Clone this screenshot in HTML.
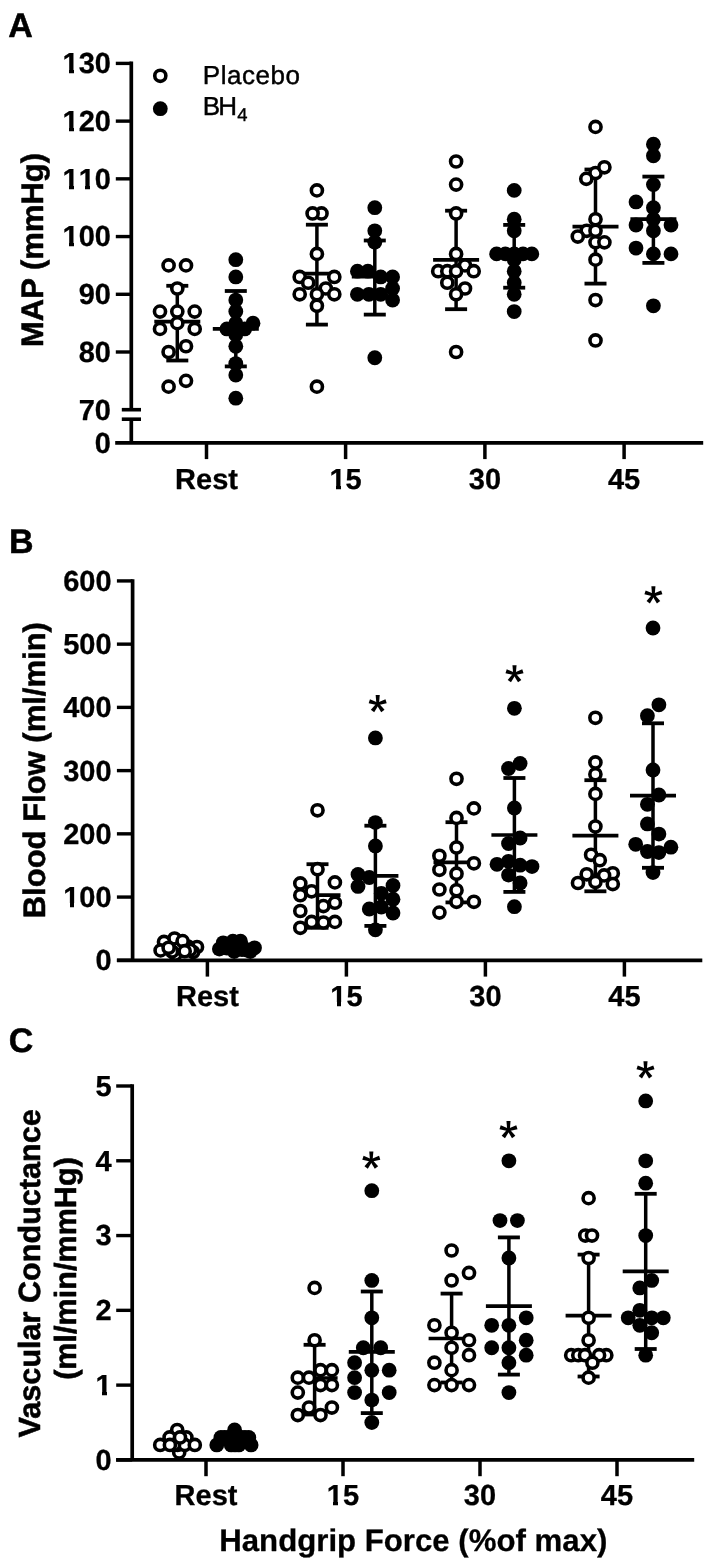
<!DOCTYPE html>
<html><head><meta charset="utf-8"><title>Figure</title>
<style>
html,body{margin:0;padding:0;background:#fff;}
body{width:709px;height:1564px;overflow:hidden;font-family:"Liberation Sans",sans-serif;}
svg{display:block;will-change:transform;transform:translateZ(0);}
</style></head><body>
<svg width="709" height="1564" viewBox="0 0 709 1564" shape-rendering="geometricPrecision" text-rendering="geometricPrecision">
<text x="8.30" y="37.00" font-family="Liberation Sans, sans-serif" font-size="34" font-weight="bold" text-anchor="start" letter-spacing="0" fill="#000" stroke="#000" stroke-width="0.5" stroke-linejoin="round" >A</text>
<line x1="131.30" y1="61.55" x2="131.30" y2="409.70" stroke="#000" stroke-width="3.7"/>
<line x1="131.30" y1="419.20" x2="131.30" y2="442.80" stroke="#000" stroke-width="3.7"/>
<line x1="121.80" y1="409.70" x2="141.00" y2="409.70" stroke="#000" stroke-width="3.6"/>
<line x1="121.80" y1="419.20" x2="141.00" y2="419.20" stroke="#000" stroke-width="3.6"/>
<line x1="115.80" y1="63.40" x2="131.30" y2="63.40" stroke="#000" stroke-width="3.4000000000000004"/>
<text x="111.00" y="73.20" font-family="Liberation Sans, sans-serif" font-size="29" font-weight="bold" text-anchor="end" letter-spacing="0" fill="#000" stroke="#000" stroke-width="0.3" stroke-linejoin="round" style="font-kerning:none" >130</text>
<rect x="63" y="69" width="6" height="6" fill="#fff" shape-rendering="crispEdges"/>
<rect x="74" y="69" width="5" height="6" fill="#fff" shape-rendering="crispEdges"/>
<line x1="115.80" y1="121.12" x2="131.30" y2="121.12" stroke="#000" stroke-width="3.4000000000000004"/>
<text x="111.00" y="130.92" font-family="Liberation Sans, sans-serif" font-size="29" font-weight="bold" text-anchor="end" letter-spacing="0" fill="#000" stroke="#000" stroke-width="0.3" stroke-linejoin="round" style="font-kerning:none" >120</text>
<rect x="63" y="127" width="6" height="5" fill="#fff" shape-rendering="crispEdges"/>
<rect x="74" y="127" width="5" height="5" fill="#fff" shape-rendering="crispEdges"/>
<line x1="115.80" y1="178.84" x2="131.30" y2="178.84" stroke="#000" stroke-width="3.4000000000000004"/>
<text x="111.00" y="188.64" font-family="Liberation Sans, sans-serif" font-size="29" font-weight="bold" text-anchor="end" letter-spacing="0" fill="#000" stroke="#000" stroke-width="0.3" stroke-linejoin="round" style="font-kerning:none" >110</text>
<rect x="63" y="185" width="6" height="5" fill="#fff" shape-rendering="crispEdges"/>
<rect x="74" y="185" width="5" height="5" fill="#fff" shape-rendering="crispEdges"/>
<rect x="80" y="185" width="5" height="5" fill="#fff" shape-rendering="crispEdges"/>
<rect x="90" y="185" width="5" height="5" fill="#fff" shape-rendering="crispEdges"/>
<line x1="115.80" y1="236.56" x2="131.30" y2="236.56" stroke="#000" stroke-width="3.4000000000000004"/>
<text x="111.00" y="246.36" font-family="Liberation Sans, sans-serif" font-size="29" font-weight="bold" text-anchor="end" letter-spacing="0" fill="#000" stroke="#000" stroke-width="0.3" stroke-linejoin="round" style="font-kerning:none" >100</text>
<rect x="63" y="242" width="6" height="6" fill="#fff" shape-rendering="crispEdges"/>
<rect x="74" y="242" width="5" height="6" fill="#fff" shape-rendering="crispEdges"/>
<line x1="115.80" y1="294.28" x2="131.30" y2="294.28" stroke="#000" stroke-width="3.4000000000000004"/>
<text x="111.00" y="304.08" font-family="Liberation Sans, sans-serif" font-size="29" font-weight="bold" text-anchor="end" letter-spacing="0" fill="#000" stroke="#000" stroke-width="0.3" stroke-linejoin="round" style="font-kerning:none" >90</text>
<line x1="115.80" y1="352.00" x2="131.30" y2="352.00" stroke="#000" stroke-width="3.4000000000000004"/>
<text x="111.00" y="361.80" font-family="Liberation Sans, sans-serif" font-size="29" font-weight="bold" text-anchor="end" letter-spacing="0" fill="#000" stroke="#000" stroke-width="0.3" stroke-linejoin="round" style="font-kerning:none" >80</text>
<text x="111.00" y="419.50" font-family="Liberation Sans, sans-serif" font-size="29" font-weight="bold" text-anchor="end" letter-spacing="0" fill="#000" stroke="#000" stroke-width="0.3" stroke-linejoin="round" >70</text>
<text x="111.00" y="452.90" font-family="Liberation Sans, sans-serif" font-size="29" font-weight="bold" text-anchor="end" letter-spacing="0" fill="#000" stroke="#000" stroke-width="0.3" stroke-linejoin="round" >0</text>
<line x1="115.20" y1="442.80" x2="703.20" y2="442.80" stroke="#000" stroke-width="3.7"/>
<line x1="206.50" y1="442.80" x2="206.50" y2="459.10" stroke="#000" stroke-width="3.5"/>
<text x="206.50" y="489.00" font-family="Liberation Sans, sans-serif" font-size="29" font-weight="bold" text-anchor="middle" letter-spacing="0" fill="#000" stroke="#000" stroke-width="0.3" stroke-linejoin="round" style="font-kerning:none" >Rest</text>
<line x1="345.60" y1="442.80" x2="345.60" y2="459.10" stroke="#000" stroke-width="3.5"/>
<text x="345.60" y="489.00" font-family="Liberation Sans, sans-serif" font-size="29" font-weight="bold" text-anchor="middle" letter-spacing="0" fill="#000" stroke="#000" stroke-width="0.3" stroke-linejoin="round" style="font-kerning:none" >15</text>
<rect x="330" y="485" width="6" height="5" fill="#fff" shape-rendering="crispEdges"/>
<rect x="341" y="485" width="5" height="5" fill="#fff" shape-rendering="crispEdges"/>
<line x1="484.90" y1="442.80" x2="484.90" y2="459.10" stroke="#000" stroke-width="3.5"/>
<text x="484.90" y="489.00" font-family="Liberation Sans, sans-serif" font-size="29" font-weight="bold" text-anchor="middle" letter-spacing="0" fill="#000" stroke="#000" stroke-width="0.3" stroke-linejoin="round" style="font-kerning:none" >30</text>
<line x1="624.10" y1="442.80" x2="624.10" y2="459.10" stroke="#000" stroke-width="3.5"/>
<text x="624.10" y="489.00" font-family="Liberation Sans, sans-serif" font-size="29" font-weight="bold" text-anchor="middle" letter-spacing="0" fill="#000" stroke="#000" stroke-width="0.3" stroke-linejoin="round" style="font-kerning:none" >45</text>
<text transform="translate(43.00,250.00) rotate(-90)" font-family="Liberation Sans, sans-serif" font-size="31" font-weight="bold" text-anchor="middle" letter-spacing="0" fill="#000" stroke="#000" stroke-width="0.55" stroke-linejoin="round">MAP (mmHg)</text>
<circle cx="160.3" cy="75.80" r="5.55" fill="#fff" stroke="#000" stroke-width="3.6"/>
<circle cx="160.3" cy="108.70" r="7.40" fill="#000"/>
<text x="202.80" y="84.30" font-family="Liberation Sans, sans-serif" font-size="26" font-weight="normal" text-anchor="start" letter-spacing="0.55" fill="#000"  stroke="#000" stroke-width="0.45">Placebo</text>
<text x="202.85" y="114.60" font-family="Liberation Sans, sans-serif" font-size="26" font-weight="normal" text-anchor="start" letter-spacing="-2.0" fill="#000"  stroke="#000" stroke-width="0.45">BH</text>
<text x="237.20" y="120.80" font-family="Liberation Sans, sans-serif" font-size="18.5" font-weight="normal" text-anchor="start" letter-spacing="0" fill="#000"  stroke="#000" stroke-width="0.35">4</text>
<line x1="177.30" y1="285.80" x2="177.30" y2="360.50" stroke="#000" stroke-width="3.5"/>
<line x1="166.30" y1="285.80" x2="188.30" y2="285.80" stroke="#000" stroke-width="3.8"/>
<line x1="166.30" y1="360.50" x2="188.30" y2="360.50" stroke="#000" stroke-width="3.8"/>
<line x1="154.30" y1="321.60" x2="200.30" y2="321.60" stroke="#000" stroke-width="3.7"/>
<circle cx="168.6" cy="265.42" r="5.55" fill="#fff" stroke="#000" stroke-width="3.6"/>
<circle cx="186.0" cy="265.42" r="5.55" fill="#fff" stroke="#000" stroke-width="3.6"/>
<circle cx="177.3" cy="288.51" r="5.55" fill="#fff" stroke="#000" stroke-width="3.6"/>
<circle cx="160.0" cy="311.60" r="5.55" fill="#fff" stroke="#000" stroke-width="3.6"/>
<circle cx="177.3" cy="311.60" r="5.55" fill="#fff" stroke="#000" stroke-width="3.6"/>
<circle cx="194.7" cy="311.60" r="5.55" fill="#fff" stroke="#000" stroke-width="3.6"/>
<circle cx="177.3" cy="323.14" r="5.55" fill="#fff" stroke="#000" stroke-width="3.6"/>
<circle cx="160.0" cy="328.91" r="5.55" fill="#fff" stroke="#000" stroke-width="3.6"/>
<circle cx="194.7" cy="328.91" r="5.55" fill="#fff" stroke="#000" stroke-width="3.6"/>
<circle cx="186.0" cy="346.23" r="5.55" fill="#fff" stroke="#000" stroke-width="3.6"/>
<circle cx="168.6" cy="352.00" r="5.55" fill="#fff" stroke="#000" stroke-width="3.6"/>
<circle cx="186.0" cy="380.86" r="5.55" fill="#fff" stroke="#000" stroke-width="3.6"/>
<circle cx="168.6" cy="386.63" r="5.55" fill="#fff" stroke="#000" stroke-width="3.6"/>
<line x1="235.80" y1="291.00" x2="235.80" y2="366.40" stroke="#000" stroke-width="3.5"/>
<line x1="224.80" y1="291.00" x2="246.80" y2="291.00" stroke="#000" stroke-width="3.8"/>
<line x1="224.80" y1="366.40" x2="246.80" y2="366.40" stroke="#000" stroke-width="3.8"/>
<line x1="212.80" y1="328.90" x2="258.80" y2="328.90" stroke="#000" stroke-width="3.7"/>
<circle cx="235.8" cy="323.14" r="7.40" fill="#000"/>
<circle cx="235.8" cy="334.68" r="7.40" fill="#000"/>
<circle cx="235.8" cy="259.65" r="7.40" fill="#000"/>
<circle cx="235.8" cy="276.96" r="7.40" fill="#000"/>
<circle cx="235.8" cy="300.05" r="7.40" fill="#000"/>
<circle cx="235.8" cy="311.60" r="7.40" fill="#000"/>
<circle cx="226.9" cy="328.91" r="7.40" fill="#000"/>
<circle cx="235.8" cy="328.91" r="7.40" fill="#000"/>
<circle cx="244.7" cy="328.91" r="7.40" fill="#000"/>
<circle cx="253.0" cy="323.14" r="7.40" fill="#000"/>
<circle cx="235.8" cy="346.23" r="7.40" fill="#000"/>
<circle cx="235.8" cy="363.54" r="7.40" fill="#000"/>
<circle cx="235.8" cy="375.09" r="7.40" fill="#000"/>
<circle cx="235.8" cy="398.18" r="7.40" fill="#000"/>
<line x1="316.90" y1="224.70" x2="316.90" y2="324.60" stroke="#000" stroke-width="3.5"/>
<line x1="305.90" y1="224.70" x2="327.90" y2="224.70" stroke="#000" stroke-width="3.8"/>
<line x1="305.90" y1="324.60" x2="327.90" y2="324.60" stroke="#000" stroke-width="3.8"/>
<line x1="293.90" y1="273.70" x2="339.90" y2="273.70" stroke="#000" stroke-width="3.7"/>
<circle cx="316.9" cy="190.38" r="5.55" fill="#fff" stroke="#000" stroke-width="3.6"/>
<circle cx="321.5" cy="213.47" r="5.55" fill="#fff" stroke="#000" stroke-width="3.6"/>
<circle cx="312.6" cy="213.47" r="5.55" fill="#fff" stroke="#000" stroke-width="3.6"/>
<circle cx="316.9" cy="253.88" r="5.55" fill="#fff" stroke="#000" stroke-width="3.6"/>
<circle cx="299.7" cy="276.96" r="5.55" fill="#fff" stroke="#000" stroke-width="3.6"/>
<circle cx="334.3" cy="276.96" r="5.55" fill="#fff" stroke="#000" stroke-width="3.6"/>
<circle cx="308.2" cy="282.74" r="5.55" fill="#fff" stroke="#000" stroke-width="3.6"/>
<circle cx="325.8" cy="288.51" r="5.55" fill="#fff" stroke="#000" stroke-width="3.6"/>
<circle cx="299.7" cy="294.28" r="5.55" fill="#fff" stroke="#000" stroke-width="3.6"/>
<circle cx="316.9" cy="294.28" r="5.55" fill="#fff" stroke="#000" stroke-width="3.6"/>
<circle cx="334.3" cy="294.28" r="5.55" fill="#fff" stroke="#000" stroke-width="3.6"/>
<circle cx="316.9" cy="305.82" r="5.55" fill="#fff" stroke="#000" stroke-width="3.6"/>
<circle cx="316.9" cy="386.63" r="5.55" fill="#fff" stroke="#000" stroke-width="3.6"/>
<line x1="374.80" y1="240.50" x2="374.80" y2="314.60" stroke="#000" stroke-width="3.5"/>
<line x1="363.80" y1="240.50" x2="385.80" y2="240.50" stroke="#000" stroke-width="3.8"/>
<line x1="363.80" y1="314.60" x2="385.80" y2="314.60" stroke="#000" stroke-width="3.8"/>
<line x1="351.80" y1="276.60" x2="397.80" y2="276.60" stroke="#000" stroke-width="3.7"/>
<circle cx="374.8" cy="207.70" r="7.40" fill="#000"/>
<circle cx="374.8" cy="230.79" r="7.40" fill="#000"/>
<circle cx="374.8" cy="242.33" r="7.40" fill="#000"/>
<circle cx="357.4" cy="271.19" r="7.40" fill="#000"/>
<circle cx="367.9" cy="271.19" r="7.40" fill="#000"/>
<circle cx="380.7" cy="276.96" r="7.40" fill="#000"/>
<circle cx="392.6" cy="276.96" r="7.40" fill="#000"/>
<circle cx="392.6" cy="288.51" r="7.40" fill="#000"/>
<circle cx="357.4" cy="294.28" r="7.40" fill="#000"/>
<circle cx="368.9" cy="294.28" r="7.40" fill="#000"/>
<circle cx="380.7" cy="294.28" r="7.40" fill="#000"/>
<circle cx="392.6" cy="300.05" r="7.40" fill="#000"/>
<circle cx="374.8" cy="357.77" r="7.40" fill="#000"/>
<line x1="456.10" y1="210.70" x2="456.10" y2="309.20" stroke="#000" stroke-width="3.5"/>
<line x1="445.10" y1="210.70" x2="467.10" y2="210.70" stroke="#000" stroke-width="3.8"/>
<line x1="445.10" y1="309.20" x2="467.10" y2="309.20" stroke="#000" stroke-width="3.8"/>
<line x1="433.10" y1="259.90" x2="479.10" y2="259.90" stroke="#000" stroke-width="3.7"/>
<circle cx="456.1" cy="161.52" r="5.55" fill="#fff" stroke="#000" stroke-width="3.6"/>
<circle cx="456.1" cy="184.61" r="5.55" fill="#fff" stroke="#000" stroke-width="3.6"/>
<circle cx="456.1" cy="213.47" r="5.55" fill="#fff" stroke="#000" stroke-width="3.6"/>
<circle cx="456.1" cy="253.88" r="5.55" fill="#fff" stroke="#000" stroke-width="3.6"/>
<circle cx="465.0" cy="265.42" r="5.55" fill="#fff" stroke="#000" stroke-width="3.6"/>
<circle cx="438.2" cy="271.19" r="5.55" fill="#fff" stroke="#000" stroke-width="3.6"/>
<circle cx="447.3" cy="271.19" r="5.55" fill="#fff" stroke="#000" stroke-width="3.6"/>
<circle cx="456.1" cy="271.19" r="5.55" fill="#fff" stroke="#000" stroke-width="3.6"/>
<circle cx="473.7" cy="271.19" r="5.55" fill="#fff" stroke="#000" stroke-width="3.6"/>
<circle cx="447.3" cy="282.74" r="5.55" fill="#fff" stroke="#000" stroke-width="3.6"/>
<circle cx="465.0" cy="288.51" r="5.55" fill="#fff" stroke="#000" stroke-width="3.6"/>
<circle cx="456.1" cy="294.28" r="5.55" fill="#fff" stroke="#000" stroke-width="3.6"/>
<circle cx="456.1" cy="352.00" r="5.55" fill="#fff" stroke="#000" stroke-width="3.6"/>
<line x1="514.20" y1="224.90" x2="514.20" y2="287.70" stroke="#000" stroke-width="3.5"/>
<line x1="503.20" y1="224.90" x2="525.20" y2="224.90" stroke="#000" stroke-width="3.8"/>
<line x1="503.20" y1="287.70" x2="525.20" y2="287.70" stroke="#000" stroke-width="3.8"/>
<line x1="491.20" y1="254.50" x2="537.20" y2="254.50" stroke="#000" stroke-width="3.7"/>
<circle cx="514.2" cy="190.38" r="7.40" fill="#000"/>
<circle cx="514.2" cy="219.24" r="7.40" fill="#000"/>
<circle cx="514.2" cy="230.79" r="7.40" fill="#000"/>
<circle cx="496.6" cy="253.88" r="7.40" fill="#000"/>
<circle cx="505.4" cy="253.88" r="7.40" fill="#000"/>
<circle cx="514.2" cy="253.88" r="7.40" fill="#000"/>
<circle cx="523.0" cy="253.88" r="7.40" fill="#000"/>
<circle cx="531.8" cy="253.88" r="7.40" fill="#000"/>
<circle cx="514.2" cy="259.65" r="7.40" fill="#000"/>
<circle cx="514.2" cy="271.19" r="7.40" fill="#000"/>
<circle cx="514.2" cy="282.74" r="7.40" fill="#000"/>
<circle cx="514.2" cy="294.28" r="7.40" fill="#000"/>
<circle cx="514.2" cy="311.60" r="7.40" fill="#000"/>
<line x1="595.50" y1="169.50" x2="595.50" y2="283.60" stroke="#000" stroke-width="3.5"/>
<line x1="584.50" y1="169.50" x2="606.50" y2="169.50" stroke="#000" stroke-width="3.8"/>
<line x1="584.50" y1="283.60" x2="606.50" y2="283.60" stroke="#000" stroke-width="3.8"/>
<line x1="572.50" y1="226.60" x2="618.50" y2="226.60" stroke="#000" stroke-width="3.7"/>
<circle cx="595.5" cy="126.89" r="5.55" fill="#fff" stroke="#000" stroke-width="3.6"/>
<circle cx="595.5" cy="173.07" r="5.55" fill="#fff" stroke="#000" stroke-width="3.6"/>
<circle cx="604.4" cy="167.30" r="5.55" fill="#fff" stroke="#000" stroke-width="3.6"/>
<circle cx="586.3" cy="178.84" r="5.55" fill="#fff" stroke="#000" stroke-width="3.6"/>
<circle cx="595.5" cy="219.24" r="5.55" fill="#fff" stroke="#000" stroke-width="3.6"/>
<circle cx="586.7" cy="230.79" r="5.55" fill="#fff" stroke="#000" stroke-width="3.6"/>
<circle cx="595.5" cy="230.79" r="5.55" fill="#fff" stroke="#000" stroke-width="3.6"/>
<circle cx="577.8" cy="236.56" r="5.55" fill="#fff" stroke="#000" stroke-width="3.6"/>
<circle cx="595.5" cy="242.33" r="5.55" fill="#fff" stroke="#000" stroke-width="3.6"/>
<circle cx="604.4" cy="242.33" r="5.55" fill="#fff" stroke="#000" stroke-width="3.6"/>
<circle cx="595.5" cy="259.65" r="5.55" fill="#fff" stroke="#000" stroke-width="3.6"/>
<circle cx="595.5" cy="300.05" r="5.55" fill="#fff" stroke="#000" stroke-width="3.6"/>
<circle cx="595.5" cy="340.46" r="5.55" fill="#fff" stroke="#000" stroke-width="3.6"/>
<line x1="653.40" y1="176.60" x2="653.40" y2="262.90" stroke="#000" stroke-width="3.5"/>
<line x1="642.40" y1="176.60" x2="664.40" y2="176.60" stroke="#000" stroke-width="3.8"/>
<line x1="642.40" y1="262.90" x2="664.40" y2="262.90" stroke="#000" stroke-width="3.8"/>
<line x1="630.40" y1="219.10" x2="676.40" y2="219.10" stroke="#000" stroke-width="3.7"/>
<circle cx="653.4" cy="144.21" r="7.40" fill="#000"/>
<circle cx="653.4" cy="155.75" r="7.40" fill="#000"/>
<circle cx="653.4" cy="184.61" r="7.40" fill="#000"/>
<circle cx="636.0" cy="201.93" r="7.40" fill="#000"/>
<circle cx="653.4" cy="207.70" r="7.40" fill="#000"/>
<circle cx="653.4" cy="219.24" r="7.40" fill="#000"/>
<circle cx="636.0" cy="225.02" r="7.40" fill="#000"/>
<circle cx="671.0" cy="225.02" r="7.40" fill="#000"/>
<circle cx="653.4" cy="230.79" r="7.40" fill="#000"/>
<circle cx="636.0" cy="248.10" r="7.40" fill="#000"/>
<circle cx="653.4" cy="253.88" r="7.40" fill="#000"/>
<circle cx="671.0" cy="253.88" r="7.40" fill="#000"/>
<circle cx="653.4" cy="305.82" r="7.40" fill="#000"/>
<text x="9.00" y="553.00" font-family="Liberation Sans, sans-serif" font-size="34" font-weight="bold" text-anchor="start" letter-spacing="0" fill="#000" stroke="#000" stroke-width="0.5" stroke-linejoin="round" >B</text>
<line x1="132.60" y1="579.22" x2="132.60" y2="960.30" stroke="#000" stroke-width="3.7"/>
<line x1="116.90" y1="580.92" x2="132.60" y2="580.92" stroke="#000" stroke-width="3.4000000000000004"/>
<text x="111.60" y="590.82" font-family="Liberation Sans, sans-serif" font-size="29" font-weight="bold" text-anchor="end" letter-spacing="0" fill="#000" stroke="#000" stroke-width="0.3" stroke-linejoin="round" style="font-kerning:none" >600</text>
<line x1="116.90" y1="644.15" x2="132.60" y2="644.15" stroke="#000" stroke-width="3.4000000000000004"/>
<text x="111.60" y="654.05" font-family="Liberation Sans, sans-serif" font-size="29" font-weight="bold" text-anchor="end" letter-spacing="0" fill="#000" stroke="#000" stroke-width="0.3" stroke-linejoin="round" style="font-kerning:none" >500</text>
<line x1="116.90" y1="707.38" x2="132.60" y2="707.38" stroke="#000" stroke-width="3.4000000000000004"/>
<text x="111.60" y="717.28" font-family="Liberation Sans, sans-serif" font-size="29" font-weight="bold" text-anchor="end" letter-spacing="0" fill="#000" stroke="#000" stroke-width="0.3" stroke-linejoin="round" style="font-kerning:none" >400</text>
<line x1="116.90" y1="770.61" x2="132.60" y2="770.61" stroke="#000" stroke-width="3.4000000000000004"/>
<text x="111.60" y="780.51" font-family="Liberation Sans, sans-serif" font-size="29" font-weight="bold" text-anchor="end" letter-spacing="0" fill="#000" stroke="#000" stroke-width="0.3" stroke-linejoin="round" style="font-kerning:none" >300</text>
<line x1="116.90" y1="833.84" x2="132.60" y2="833.84" stroke="#000" stroke-width="3.4000000000000004"/>
<text x="111.60" y="843.74" font-family="Liberation Sans, sans-serif" font-size="29" font-weight="bold" text-anchor="end" letter-spacing="0" fill="#000" stroke="#000" stroke-width="0.3" stroke-linejoin="round" style="font-kerning:none" >200</text>
<line x1="116.90" y1="897.07" x2="132.60" y2="897.07" stroke="#000" stroke-width="3.4000000000000004"/>
<text x="111.60" y="906.97" font-family="Liberation Sans, sans-serif" font-size="29" font-weight="bold" text-anchor="end" letter-spacing="0" fill="#000" stroke="#000" stroke-width="0.3" stroke-linejoin="round" style="font-kerning:none" >100</text>
<rect x="64" y="903" width="6" height="5" fill="#fff" shape-rendering="crispEdges"/>
<rect x="74" y="903" width="5" height="5" fill="#fff" shape-rendering="crispEdges"/>
<line x1="116.90" y1="960.30" x2="132.60" y2="960.30" stroke="#000" stroke-width="3.4000000000000004"/>
<text x="111.60" y="970.20" font-family="Liberation Sans, sans-serif" font-size="29" font-weight="bold" text-anchor="end" letter-spacing="0" fill="#000" stroke="#000" stroke-width="0.3" stroke-linejoin="round" style="font-kerning:none" >0</text>
<line x1="116.90" y1="960.30" x2="702.30" y2="960.30" stroke="#000" stroke-width="3.7"/>
<line x1="207.40" y1="960.30" x2="207.40" y2="976.60" stroke="#000" stroke-width="3.5"/>
<text x="207.40" y="1005.60" font-family="Liberation Sans, sans-serif" font-size="29" font-weight="bold" text-anchor="middle" letter-spacing="0" fill="#000" stroke="#000" stroke-width="0.3" stroke-linejoin="round" style="font-kerning:none" >Rest</text>
<line x1="346.40" y1="960.30" x2="346.40" y2="976.60" stroke="#000" stroke-width="3.5"/>
<text x="346.40" y="1005.60" font-family="Liberation Sans, sans-serif" font-size="29" font-weight="bold" text-anchor="middle" letter-spacing="0" fill="#000" stroke="#000" stroke-width="0.3" stroke-linejoin="round" style="font-kerning:none" >15</text>
<rect x="331" y="1002" width="6" height="5" fill="#fff" shape-rendering="crispEdges"/>
<rect x="341" y="1002" width="5" height="5" fill="#fff" shape-rendering="crispEdges"/>
<line x1="485.40" y1="960.30" x2="485.40" y2="976.60" stroke="#000" stroke-width="3.5"/>
<text x="485.40" y="1005.60" font-family="Liberation Sans, sans-serif" font-size="29" font-weight="bold" text-anchor="middle" letter-spacing="0" fill="#000" stroke="#000" stroke-width="0.3" stroke-linejoin="round" style="font-kerning:none" >30</text>
<line x1="624.40" y1="960.30" x2="624.40" y2="976.60" stroke="#000" stroke-width="3.5"/>
<text x="624.40" y="1005.60" font-family="Liberation Sans, sans-serif" font-size="29" font-weight="bold" text-anchor="middle" letter-spacing="0" fill="#000" stroke="#000" stroke-width="0.3" stroke-linejoin="round" style="font-kerning:none" >45</text>
<text transform="translate(45.10,770.20) rotate(-90)" font-family="Liberation Sans, sans-serif" font-size="31" font-weight="bold" text-anchor="middle" letter-spacing="0" fill="#000" stroke="#000" stroke-width="0.55" stroke-linejoin="round">Blood Flow (ml/min)</text>
<circle cx="197.0" cy="947.00" r="5.55" fill="#fff" stroke="#000" stroke-width="3.6"/>
<circle cx="193.1" cy="952.10" r="5.55" fill="#fff" stroke="#000" stroke-width="3.6"/>
<circle cx="174.5" cy="938.50" r="5.55" fill="#fff" stroke="#000" stroke-width="3.6"/>
<circle cx="164.0" cy="941.90" r="5.55" fill="#fff" stroke="#000" stroke-width="3.6"/>
<circle cx="160.6" cy="950.40" r="5.55" fill="#fff" stroke="#000" stroke-width="3.6"/>
<circle cx="175.4" cy="954.60" r="5.55" fill="#fff" stroke="#000" stroke-width="3.6"/>
<circle cx="188.0" cy="946.50" r="5.55" fill="#fff" stroke="#000" stroke-width="3.6"/>
<circle cx="178.0" cy="948.50" r="5.55" fill="#fff" stroke="#000" stroke-width="3.6"/>
<circle cx="172.0" cy="951.50" r="5.55" fill="#fff" stroke="#000" stroke-width="3.6"/>
<circle cx="190.0" cy="950.00" r="5.55" fill="#fff" stroke="#000" stroke-width="3.6"/>
<circle cx="168.6" cy="947.80" r="5.55" fill="#fff" stroke="#000" stroke-width="3.6"/>
<circle cx="182.6" cy="941.10" r="5.55" fill="#fff" stroke="#000" stroke-width="3.6"/>
<circle cx="184.7" cy="951.20" r="5.55" fill="#fff" stroke="#000" stroke-width="3.6"/>
<circle cx="219.4" cy="949.10" r="7.40" fill="#000"/>
<circle cx="223.2" cy="942.80" r="7.40" fill="#000"/>
<circle cx="232.9" cy="941.20" r="7.40" fill="#000"/>
<circle cx="240.5" cy="941.20" r="7.40" fill="#000"/>
<circle cx="254.5" cy="947.80" r="7.40" fill="#000"/>
<circle cx="234.2" cy="951.60" r="7.40" fill="#000"/>
<circle cx="250.3" cy="951.60" r="7.40" fill="#000"/>
<circle cx="227.0" cy="948.00" r="7.40" fill="#000"/>
<circle cx="237.0" cy="947.00" r="7.40" fill="#000"/>
<circle cx="244.0" cy="948.50" r="7.40" fill="#000"/>
<circle cx="242.0" cy="949.50" r="7.40" fill="#000"/>
<circle cx="230.0" cy="947.00" r="7.40" fill="#000"/>
<circle cx="247.0" cy="950.00" r="7.40" fill="#000"/>
<line x1="317.50" y1="864.20" x2="317.50" y2="927.80" stroke="#000" stroke-width="3.5"/>
<line x1="306.50" y1="864.20" x2="328.50" y2="864.20" stroke="#000" stroke-width="3.8"/>
<line x1="306.50" y1="927.80" x2="328.50" y2="927.80" stroke="#000" stroke-width="3.8"/>
<line x1="294.50" y1="895.20" x2="340.50" y2="895.20" stroke="#000" stroke-width="3.7"/>
<circle cx="317.5" cy="810.30" r="5.55" fill="#fff" stroke="#000" stroke-width="3.6"/>
<circle cx="317.5" cy="869.20" r="5.55" fill="#fff" stroke="#000" stroke-width="3.6"/>
<circle cx="300.3" cy="883.40" r="5.55" fill="#fff" stroke="#000" stroke-width="3.6"/>
<circle cx="334.9" cy="882.40" r="5.55" fill="#fff" stroke="#000" stroke-width="3.6"/>
<circle cx="311.6" cy="891.30" r="5.55" fill="#fff" stroke="#000" stroke-width="3.6"/>
<circle cx="300.3" cy="895.20" r="5.55" fill="#fff" stroke="#000" stroke-width="3.6"/>
<circle cx="334.9" cy="902.70" r="5.55" fill="#fff" stroke="#000" stroke-width="3.6"/>
<circle cx="323.4" cy="906.10" r="5.55" fill="#fff" stroke="#000" stroke-width="3.6"/>
<circle cx="300.3" cy="911.00" r="5.55" fill="#fff" stroke="#000" stroke-width="3.6"/>
<circle cx="311.6" cy="921.90" r="5.55" fill="#fff" stroke="#000" stroke-width="3.6"/>
<circle cx="323.4" cy="922.50" r="5.55" fill="#fff" stroke="#000" stroke-width="3.6"/>
<circle cx="334.9" cy="921.90" r="5.55" fill="#fff" stroke="#000" stroke-width="3.6"/>
<circle cx="300.3" cy="927.80" r="5.55" fill="#fff" stroke="#000" stroke-width="3.6"/>
<line x1="375.40" y1="825.70" x2="375.40" y2="925.90" stroke="#000" stroke-width="3.5"/>
<line x1="364.40" y1="825.70" x2="386.40" y2="825.70" stroke="#000" stroke-width="3.8"/>
<line x1="364.40" y1="925.90" x2="386.40" y2="925.90" stroke="#000" stroke-width="3.8"/>
<line x1="352.40" y1="875.90" x2="398.40" y2="875.90" stroke="#000" stroke-width="3.7"/>
<circle cx="375.4" cy="737.90" r="7.40" fill="#000"/>
<circle cx="375.4" cy="822.60" r="7.40" fill="#000"/>
<circle cx="375.4" cy="845.90" r="7.40" fill="#000"/>
<circle cx="358.0" cy="874.50" r="7.40" fill="#000"/>
<circle cx="369.3" cy="877.50" r="7.40" fill="#000"/>
<circle cx="358.0" cy="886.40" r="7.40" fill="#000"/>
<circle cx="393.0" cy="885.40" r="7.40" fill="#000"/>
<circle cx="381.3" cy="893.30" r="7.40" fill="#000"/>
<circle cx="393.0" cy="899.20" r="7.40" fill="#000"/>
<circle cx="369.3" cy="909.00" r="7.40" fill="#000"/>
<circle cx="381.3" cy="907.00" r="7.40" fill="#000"/>
<circle cx="393.0" cy="913.00" r="7.40" fill="#000"/>
<circle cx="375.4" cy="929.80" r="7.40" fill="#000"/>
<polygon points="378.95,704.50 379.75,695.10 375.65,695.10 376.45,704.50" fill="#000"/>
<polygon points="377.52,705.27 386.70,703.13 385.44,699.23 376.74,702.90" fill="#000"/>
<polygon points="376.34,704.15 381.21,712.22 384.53,709.81 378.36,702.68" fill="#000"/>
<polygon points="377.04,702.68 370.87,709.81 374.19,712.22 379.06,704.15" fill="#000"/>
<polygon points="378.66,702.90 369.96,699.23 368.70,703.13 377.88,705.27" fill="#000"/>
<line x1="456.50" y1="822.20" x2="456.50" y2="902.40" stroke="#000" stroke-width="3.5"/>
<line x1="445.50" y1="822.20" x2="467.50" y2="822.20" stroke="#000" stroke-width="3.8"/>
<line x1="445.50" y1="902.40" x2="467.50" y2="902.40" stroke="#000" stroke-width="3.8"/>
<line x1="433.50" y1="862.30" x2="479.50" y2="862.30" stroke="#000" stroke-width="3.7"/>
<circle cx="456.5" cy="778.80" r="5.55" fill="#fff" stroke="#000" stroke-width="3.6"/>
<circle cx="473.9" cy="808.40" r="5.55" fill="#fff" stroke="#000" stroke-width="3.6"/>
<circle cx="456.5" cy="817.90" r="5.55" fill="#fff" stroke="#000" stroke-width="3.6"/>
<circle cx="456.5" cy="847.50" r="5.55" fill="#fff" stroke="#000" stroke-width="3.6"/>
<circle cx="439.4" cy="855.80" r="5.55" fill="#fff" stroke="#000" stroke-width="3.6"/>
<circle cx="473.9" cy="863.30" r="5.55" fill="#fff" stroke="#000" stroke-width="3.6"/>
<circle cx="439.4" cy="869.80" r="5.55" fill="#fff" stroke="#000" stroke-width="3.6"/>
<circle cx="456.5" cy="873.70" r="5.55" fill="#fff" stroke="#000" stroke-width="3.6"/>
<circle cx="439.4" cy="889.50" r="5.55" fill="#fff" stroke="#000" stroke-width="3.6"/>
<circle cx="456.5" cy="890.30" r="5.55" fill="#fff" stroke="#000" stroke-width="3.6"/>
<circle cx="456.5" cy="901.80" r="5.55" fill="#fff" stroke="#000" stroke-width="3.6"/>
<circle cx="473.9" cy="901.80" r="5.55" fill="#fff" stroke="#000" stroke-width="3.6"/>
<circle cx="439.4" cy="912.60" r="5.55" fill="#fff" stroke="#000" stroke-width="3.6"/>
<line x1="514.40" y1="778.00" x2="514.40" y2="891.90" stroke="#000" stroke-width="3.5"/>
<line x1="503.40" y1="778.00" x2="525.40" y2="778.00" stroke="#000" stroke-width="3.8"/>
<line x1="503.40" y1="891.90" x2="525.40" y2="891.90" stroke="#000" stroke-width="3.8"/>
<line x1="491.40" y1="835.00" x2="537.40" y2="835.00" stroke="#000" stroke-width="3.7"/>
<circle cx="514.4" cy="708.30" r="7.40" fill="#000"/>
<circle cx="520.1" cy="763.50" r="7.40" fill="#000"/>
<circle cx="508.5" cy="768.50" r="7.40" fill="#000"/>
<circle cx="514.4" cy="808.00" r="7.40" fill="#000"/>
<circle cx="520.1" cy="838.00" r="7.40" fill="#000"/>
<circle cx="508.5" cy="843.50" r="7.40" fill="#000"/>
<circle cx="497.0" cy="864.30" r="7.40" fill="#000"/>
<circle cx="508.5" cy="861.30" r="7.40" fill="#000"/>
<circle cx="520.1" cy="865.20" r="7.40" fill="#000"/>
<circle cx="532.0" cy="866.60" r="7.40" fill="#000"/>
<circle cx="508.5" cy="875.10" r="7.40" fill="#000"/>
<circle cx="520.1" cy="883.00" r="7.40" fill="#000"/>
<circle cx="514.4" cy="906.70" r="7.40" fill="#000"/>
<polygon points="515.75,674.60 516.55,665.20 512.45,665.20 513.25,674.60" fill="#000"/>
<polygon points="514.32,675.37 523.50,673.23 522.24,669.33 513.54,673.00" fill="#000"/>
<polygon points="513.14,674.25 518.01,682.32 521.33,679.91 515.16,672.78" fill="#000"/>
<polygon points="513.84,672.78 507.67,679.91 510.99,682.32 515.86,674.25" fill="#000"/>
<polygon points="515.46,673.00 506.76,669.33 505.50,673.23 514.68,675.37" fill="#000"/>
<line x1="595.40" y1="780.20" x2="595.40" y2="891.30" stroke="#000" stroke-width="3.5"/>
<line x1="584.40" y1="780.20" x2="606.40" y2="780.20" stroke="#000" stroke-width="3.8"/>
<line x1="584.40" y1="891.30" x2="606.40" y2="891.30" stroke="#000" stroke-width="3.8"/>
<line x1="572.40" y1="835.70" x2="618.40" y2="835.70" stroke="#000" stroke-width="3.7"/>
<circle cx="595.4" cy="717.80" r="5.55" fill="#fff" stroke="#000" stroke-width="3.6"/>
<circle cx="595.4" cy="774.30" r="5.55" fill="#fff" stroke="#000" stroke-width="3.6"/>
<circle cx="595.4" cy="762.40" r="5.55" fill="#fff" stroke="#000" stroke-width="3.6"/>
<circle cx="595.4" cy="793.90" r="5.55" fill="#fff" stroke="#000" stroke-width="3.6"/>
<circle cx="595.4" cy="826.50" r="5.55" fill="#fff" stroke="#000" stroke-width="3.6"/>
<circle cx="591.1" cy="854.80" r="5.55" fill="#fff" stroke="#000" stroke-width="3.6"/>
<circle cx="599.8" cy="860.20" r="5.55" fill="#fff" stroke="#000" stroke-width="3.6"/>
<circle cx="586.7" cy="874.30" r="5.55" fill="#fff" stroke="#000" stroke-width="3.6"/>
<circle cx="612.8" cy="873.30" r="5.55" fill="#fff" stroke="#000" stroke-width="3.6"/>
<circle cx="604.1" cy="875.40" r="5.55" fill="#fff" stroke="#000" stroke-width="3.6"/>
<circle cx="578.0" cy="883.00" r="5.55" fill="#fff" stroke="#000" stroke-width="3.6"/>
<circle cx="595.4" cy="882.00" r="5.55" fill="#fff" stroke="#000" stroke-width="3.6"/>
<circle cx="612.8" cy="884.10" r="5.55" fill="#fff" stroke="#000" stroke-width="3.6"/>
<line x1="653.00" y1="723.30" x2="653.00" y2="867.80" stroke="#000" stroke-width="3.5"/>
<line x1="642.00" y1="723.30" x2="664.00" y2="723.30" stroke="#000" stroke-width="3.8"/>
<line x1="642.00" y1="867.80" x2="664.00" y2="867.80" stroke="#000" stroke-width="3.8"/>
<line x1="630.00" y1="795.70" x2="676.00" y2="795.70" stroke="#000" stroke-width="3.7"/>
<circle cx="653.0" cy="628.00" r="7.40" fill="#000"/>
<circle cx="658.9" cy="704.80" r="7.40" fill="#000"/>
<circle cx="647.4" cy="715.70" r="7.40" fill="#000"/>
<circle cx="653.0" cy="770.00" r="7.40" fill="#000"/>
<circle cx="658.9" cy="795.00" r="7.40" fill="#000"/>
<circle cx="647.4" cy="804.30" r="7.40" fill="#000"/>
<circle cx="647.4" cy="823.90" r="7.40" fill="#000"/>
<circle cx="658.9" cy="834.10" r="7.40" fill="#000"/>
<circle cx="635.7" cy="844.30" r="7.40" fill="#000"/>
<circle cx="670.9" cy="847.20" r="7.40" fill="#000"/>
<circle cx="647.4" cy="851.50" r="7.40" fill="#000"/>
<circle cx="658.9" cy="852.60" r="7.40" fill="#000"/>
<circle cx="653.0" cy="872.60" r="7.40" fill="#000"/>
<polygon points="654.65,595.70 655.45,586.30 651.35,586.30 652.15,595.70" fill="#000"/>
<polygon points="653.22,596.47 662.40,594.33 661.14,590.43 652.44,594.10" fill="#000"/>
<polygon points="652.04,595.35 656.91,603.42 660.23,601.01 654.06,593.88" fill="#000"/>
<polygon points="652.74,593.88 646.57,601.01 649.89,603.42 654.76,595.35" fill="#000"/>
<polygon points="654.36,594.10 645.66,590.43 644.40,594.33 653.58,596.47" fill="#000"/>
<text x="8.80" y="1052.00" font-family="Liberation Sans, sans-serif" font-size="34" font-weight="bold" text-anchor="start" letter-spacing="0" fill="#000" stroke="#000" stroke-width="0.5" stroke-linejoin="round" >C</text>
<line x1="132.20" y1="1084.30" x2="132.20" y2="1459.90" stroke="#000" stroke-width="3.7"/>
<line x1="116.20" y1="1086.00" x2="132.20" y2="1086.00" stroke="#000" stroke-width="3.4000000000000004"/>
<text x="111.60" y="1095.90" font-family="Liberation Sans, sans-serif" font-size="29" font-weight="bold" text-anchor="end" letter-spacing="0" fill="#000" stroke="#000" stroke-width="0.3" stroke-linejoin="round" style="font-kerning:none" >5</text>
<line x1="116.20" y1="1160.78" x2="132.20" y2="1160.78" stroke="#000" stroke-width="3.4000000000000004"/>
<text x="111.60" y="1170.68" font-family="Liberation Sans, sans-serif" font-size="29" font-weight="bold" text-anchor="end" letter-spacing="0" fill="#000" stroke="#000" stroke-width="0.3" stroke-linejoin="round" style="font-kerning:none" >4</text>
<line x1="116.20" y1="1235.56" x2="132.20" y2="1235.56" stroke="#000" stroke-width="3.4000000000000004"/>
<text x="111.60" y="1245.46" font-family="Liberation Sans, sans-serif" font-size="29" font-weight="bold" text-anchor="end" letter-spacing="0" fill="#000" stroke="#000" stroke-width="0.3" stroke-linejoin="round" style="font-kerning:none" >3</text>
<line x1="116.20" y1="1310.34" x2="132.20" y2="1310.34" stroke="#000" stroke-width="3.4000000000000004"/>
<text x="111.60" y="1320.24" font-family="Liberation Sans, sans-serif" font-size="29" font-weight="bold" text-anchor="end" letter-spacing="0" fill="#000" stroke="#000" stroke-width="0.3" stroke-linejoin="round" style="font-kerning:none" >2</text>
<line x1="116.20" y1="1385.12" x2="132.20" y2="1385.12" stroke="#000" stroke-width="3.4000000000000004"/>
<text x="111.60" y="1395.02" font-family="Liberation Sans, sans-serif" font-size="29" font-weight="bold" text-anchor="end" letter-spacing="0" fill="#000" stroke="#000" stroke-width="0.3" stroke-linejoin="round" style="font-kerning:none" >1</text>
<rect x="96" y="1391" width="6" height="5" fill="#fff" shape-rendering="crispEdges"/>
<rect x="107" y="1391" width="5" height="5" fill="#fff" shape-rendering="crispEdges"/>
<line x1="116.20" y1="1459.90" x2="132.20" y2="1459.90" stroke="#000" stroke-width="3.4000000000000004"/>
<text x="111.60" y="1469.80" font-family="Liberation Sans, sans-serif" font-size="29" font-weight="bold" text-anchor="end" letter-spacing="0" fill="#000" stroke="#000" stroke-width="0.3" stroke-linejoin="round" style="font-kerning:none" >0</text>
<line x1="116.10" y1="1459.90" x2="694.20" y2="1459.90" stroke="#000" stroke-width="3.7"/>
<line x1="206.00" y1="1459.90" x2="206.00" y2="1476.20" stroke="#000" stroke-width="3.5"/>
<text x="206.00" y="1505.00" font-family="Liberation Sans, sans-serif" font-size="29" font-weight="bold" text-anchor="middle" letter-spacing="0" fill="#000" stroke="#000" stroke-width="0.3" stroke-linejoin="round" style="font-kerning:none" >Rest</text>
<line x1="343.00" y1="1459.90" x2="343.00" y2="1476.20" stroke="#000" stroke-width="3.5"/>
<text x="343.00" y="1505.00" font-family="Liberation Sans, sans-serif" font-size="29" font-weight="bold" text-anchor="middle" letter-spacing="0" fill="#000" stroke="#000" stroke-width="0.3" stroke-linejoin="round" style="font-kerning:none" >15</text>
<rect x="328" y="1501" width="5" height="5" fill="#fff" shape-rendering="crispEdges"/>
<rect x="338" y="1501" width="5" height="5" fill="#fff" shape-rendering="crispEdges"/>
<line x1="480.00" y1="1459.90" x2="480.00" y2="1476.20" stroke="#000" stroke-width="3.5"/>
<text x="480.00" y="1505.00" font-family="Liberation Sans, sans-serif" font-size="29" font-weight="bold" text-anchor="middle" letter-spacing="0" fill="#000" stroke="#000" stroke-width="0.3" stroke-linejoin="round" style="font-kerning:none" >30</text>
<line x1="617.00" y1="1459.90" x2="617.00" y2="1476.20" stroke="#000" stroke-width="3.5"/>
<text x="617.00" y="1505.00" font-family="Liberation Sans, sans-serif" font-size="29" font-weight="bold" text-anchor="middle" letter-spacing="0" fill="#000" stroke="#000" stroke-width="0.3" stroke-linejoin="round" style="font-kerning:none" >45</text>
<text transform="translate(39.80,1273.30) rotate(-90)" font-family="Liberation Sans, sans-serif" font-size="30.6" font-weight="bold" text-anchor="middle" letter-spacing="0" fill="#000" stroke="#000" stroke-width="0.55" stroke-linejoin="round">Vascular Conductance</text>
<text transform="translate(76.30,1268.50) rotate(-90)" font-family="Liberation Sans, sans-serif" font-size="30.6" font-weight="bold" text-anchor="middle" letter-spacing="0" fill="#000" stroke="#000" stroke-width="0.55" stroke-linejoin="round">(ml/min/mmHg)</text>
<text x="413.30" y="1551.00" font-family="Liberation Sans, sans-serif" font-size="31.2" font-weight="bold" text-anchor="middle" letter-spacing="0" fill="#000" stroke="#000" stroke-width="0.3" stroke-linejoin="round" >Handgrip Force (%of max)</text>
<circle cx="177.2" cy="1429.99" r="5.55" fill="#fff" stroke="#000" stroke-width="3.6"/>
<circle cx="169.6" cy="1437.47" r="5.55" fill="#fff" stroke="#000" stroke-width="3.6"/>
<circle cx="186.4" cy="1437.47" r="5.55" fill="#fff" stroke="#000" stroke-width="3.6"/>
<circle cx="179.2" cy="1452.42" r="5.55" fill="#fff" stroke="#000" stroke-width="3.6"/>
<circle cx="160.2" cy="1444.94" r="5.55" fill="#fff" stroke="#000" stroke-width="3.6"/>
<circle cx="177.5" cy="1444.94" r="5.55" fill="#fff" stroke="#000" stroke-width="3.6"/>
<circle cx="184.7" cy="1444.94" r="5.55" fill="#fff" stroke="#000" stroke-width="3.6"/>
<circle cx="174.0" cy="1444.94" r="5.55" fill="#fff" stroke="#000" stroke-width="3.6"/>
<circle cx="194.8" cy="1444.94" r="5.55" fill="#fff" stroke="#000" stroke-width="3.6"/>
<circle cx="169.9" cy="1444.94" r="5.55" fill="#fff" stroke="#000" stroke-width="3.6"/>
<circle cx="180.0" cy="1437.47" r="5.55" fill="#fff" stroke="#000" stroke-width="3.6"/>
<circle cx="234.6" cy="1429.99" r="7.40" fill="#000"/>
<circle cx="220.9" cy="1437.47" r="7.40" fill="#000"/>
<circle cx="228.0" cy="1437.47" r="7.40" fill="#000"/>
<circle cx="234.6" cy="1437.47" r="7.40" fill="#000"/>
<circle cx="241.5" cy="1437.47" r="7.40" fill="#000"/>
<circle cx="248.8" cy="1437.47" r="7.40" fill="#000"/>
<circle cx="224.5" cy="1437.47" r="7.40" fill="#000"/>
<circle cx="245.0" cy="1437.47" r="7.40" fill="#000"/>
<circle cx="216.8" cy="1444.94" r="7.40" fill="#000"/>
<circle cx="231.2" cy="1444.94" r="7.40" fill="#000"/>
<circle cx="238.8" cy="1444.94" r="7.40" fill="#000"/>
<circle cx="235.0" cy="1444.94" r="7.40" fill="#000"/>
<circle cx="251.1" cy="1444.94" r="7.40" fill="#000"/>
<line x1="314.60" y1="1344.80" x2="314.60" y2="1414.50" stroke="#000" stroke-width="3.5"/>
<line x1="303.60" y1="1344.80" x2="325.60" y2="1344.80" stroke="#000" stroke-width="3.8"/>
<line x1="303.60" y1="1414.50" x2="325.60" y2="1414.50" stroke="#000" stroke-width="3.8"/>
<line x1="291.60" y1="1378.00" x2="337.60" y2="1378.00" stroke="#000" stroke-width="3.7"/>
<circle cx="314.6" cy="1287.91" r="5.55" fill="#fff" stroke="#000" stroke-width="3.6"/>
<circle cx="314.6" cy="1340.25" r="5.55" fill="#fff" stroke="#000" stroke-width="3.6"/>
<circle cx="320.5" cy="1370.16" r="5.55" fill="#fff" stroke="#000" stroke-width="3.6"/>
<circle cx="331.9" cy="1370.16" r="5.55" fill="#fff" stroke="#000" stroke-width="3.6"/>
<circle cx="297.8" cy="1377.64" r="5.55" fill="#fff" stroke="#000" stroke-width="3.6"/>
<circle cx="309.0" cy="1377.64" r="5.55" fill="#fff" stroke="#000" stroke-width="3.6"/>
<circle cx="320.5" cy="1385.12" r="5.55" fill="#fff" stroke="#000" stroke-width="3.6"/>
<circle cx="331.9" cy="1385.12" r="5.55" fill="#fff" stroke="#000" stroke-width="3.6"/>
<circle cx="297.8" cy="1392.60" r="5.55" fill="#fff" stroke="#000" stroke-width="3.6"/>
<circle cx="309.0" cy="1407.55" r="5.55" fill="#fff" stroke="#000" stroke-width="3.6"/>
<circle cx="331.9" cy="1407.55" r="5.55" fill="#fff" stroke="#000" stroke-width="3.6"/>
<circle cx="297.8" cy="1415.03" r="5.55" fill="#fff" stroke="#000" stroke-width="3.6"/>
<circle cx="320.5" cy="1415.03" r="5.55" fill="#fff" stroke="#000" stroke-width="3.6"/>
<line x1="371.80" y1="1291.50" x2="371.80" y2="1413.10" stroke="#000" stroke-width="3.5"/>
<line x1="360.80" y1="1291.50" x2="382.80" y2="1291.50" stroke="#000" stroke-width="3.8"/>
<line x1="360.80" y1="1413.10" x2="382.80" y2="1413.10" stroke="#000" stroke-width="3.8"/>
<line x1="348.80" y1="1351.90" x2="394.80" y2="1351.90" stroke="#000" stroke-width="3.7"/>
<circle cx="371.8" cy="1190.69" r="7.40" fill="#000"/>
<circle cx="371.8" cy="1280.43" r="7.40" fill="#000"/>
<circle cx="371.8" cy="1317.82" r="7.40" fill="#000"/>
<circle cx="363.3" cy="1347.73" r="7.40" fill="#000"/>
<circle cx="380.7" cy="1347.73" r="7.40" fill="#000"/>
<circle cx="354.6" cy="1362.69" r="7.40" fill="#000"/>
<circle cx="371.8" cy="1370.16" r="7.40" fill="#000"/>
<circle cx="389.2" cy="1370.16" r="7.40" fill="#000"/>
<circle cx="354.6" cy="1377.64" r="7.40" fill="#000"/>
<circle cx="354.6" cy="1392.60" r="7.40" fill="#000"/>
<circle cx="389.2" cy="1392.60" r="7.40" fill="#000"/>
<circle cx="371.8" cy="1400.08" r="7.40" fill="#000"/>
<circle cx="371.8" cy="1422.51" r="7.40" fill="#000"/>
<polygon points="372.55,1161.00 373.35,1151.60 369.25,1151.60 370.05,1161.00" fill="#000"/>
<polygon points="371.12,1161.77 380.30,1159.63 379.04,1155.73 370.34,1159.40" fill="#000"/>
<polygon points="369.94,1160.65 374.81,1168.72 378.13,1166.31 371.96,1159.18" fill="#000"/>
<polygon points="370.64,1159.18 364.47,1166.31 367.79,1168.72 372.66,1160.65" fill="#000"/>
<polygon points="372.26,1159.40 363.56,1155.73 362.30,1159.63 371.48,1161.77" fill="#000"/>
<line x1="451.60" y1="1293.60" x2="451.60" y2="1382.50" stroke="#000" stroke-width="3.5"/>
<line x1="440.60" y1="1293.60" x2="462.60" y2="1293.60" stroke="#000" stroke-width="3.8"/>
<line x1="440.60" y1="1382.50" x2="462.60" y2="1382.50" stroke="#000" stroke-width="3.8"/>
<line x1="428.60" y1="1338.50" x2="474.60" y2="1338.50" stroke="#000" stroke-width="3.7"/>
<circle cx="451.6" cy="1250.52" r="5.55" fill="#fff" stroke="#000" stroke-width="3.6"/>
<circle cx="469.0" cy="1272.95" r="5.55" fill="#fff" stroke="#000" stroke-width="3.6"/>
<circle cx="451.6" cy="1280.43" r="5.55" fill="#fff" stroke="#000" stroke-width="3.6"/>
<circle cx="434.4" cy="1325.30" r="5.55" fill="#fff" stroke="#000" stroke-width="3.6"/>
<circle cx="451.6" cy="1332.77" r="5.55" fill="#fff" stroke="#000" stroke-width="3.6"/>
<circle cx="469.0" cy="1340.25" r="5.55" fill="#fff" stroke="#000" stroke-width="3.6"/>
<circle cx="451.6" cy="1347.73" r="5.55" fill="#fff" stroke="#000" stroke-width="3.6"/>
<circle cx="469.0" cy="1355.21" r="5.55" fill="#fff" stroke="#000" stroke-width="3.6"/>
<circle cx="434.4" cy="1362.69" r="5.55" fill="#fff" stroke="#000" stroke-width="3.6"/>
<circle cx="451.6" cy="1370.16" r="5.55" fill="#fff" stroke="#000" stroke-width="3.6"/>
<circle cx="434.4" cy="1385.12" r="5.55" fill="#fff" stroke="#000" stroke-width="3.6"/>
<circle cx="451.6" cy="1385.12" r="5.55" fill="#fff" stroke="#000" stroke-width="3.6"/>
<circle cx="469.0" cy="1385.12" r="5.55" fill="#fff" stroke="#000" stroke-width="3.6"/>
<line x1="508.90" y1="1237.40" x2="508.90" y2="1374.60" stroke="#000" stroke-width="3.5"/>
<line x1="497.90" y1="1237.40" x2="519.90" y2="1237.40" stroke="#000" stroke-width="3.8"/>
<line x1="497.90" y1="1374.60" x2="519.90" y2="1374.60" stroke="#000" stroke-width="3.8"/>
<line x1="485.90" y1="1306.10" x2="531.90" y2="1306.10" stroke="#000" stroke-width="3.7"/>
<circle cx="508.9" cy="1160.78" r="7.40" fill="#000"/>
<circle cx="500.0" cy="1220.60" r="7.40" fill="#000"/>
<circle cx="517.4" cy="1220.60" r="7.40" fill="#000"/>
<circle cx="508.9" cy="1257.99" r="7.40" fill="#000"/>
<circle cx="526.2" cy="1317.82" r="7.40" fill="#000"/>
<circle cx="491.7" cy="1325.30" r="7.40" fill="#000"/>
<circle cx="508.9" cy="1325.30" r="7.40" fill="#000"/>
<circle cx="526.2" cy="1340.25" r="7.40" fill="#000"/>
<circle cx="491.7" cy="1347.73" r="7.40" fill="#000"/>
<circle cx="508.9" cy="1347.73" r="7.40" fill="#000"/>
<circle cx="526.2" cy="1355.21" r="7.40" fill="#000"/>
<circle cx="508.9" cy="1362.69" r="7.40" fill="#000"/>
<circle cx="508.9" cy="1392.60" r="7.40" fill="#000"/>
<polygon points="509.75,1130.50 510.55,1121.10 506.45,1121.10 507.25,1130.50" fill="#000"/>
<polygon points="508.32,1131.27 517.50,1129.13 516.24,1125.23 507.54,1128.90" fill="#000"/>
<polygon points="507.14,1130.15 512.01,1138.22 515.33,1135.81 509.16,1128.68" fill="#000"/>
<polygon points="507.84,1128.68 501.67,1135.81 504.99,1138.22 509.86,1130.15" fill="#000"/>
<polygon points="509.46,1128.90 500.76,1125.23 499.50,1129.13 508.68,1131.27" fill="#000"/>
<line x1="588.60" y1="1254.60" x2="588.60" y2="1376.50" stroke="#000" stroke-width="3.5"/>
<line x1="577.60" y1="1254.60" x2="599.60" y2="1254.60" stroke="#000" stroke-width="3.8"/>
<line x1="577.60" y1="1376.50" x2="599.60" y2="1376.50" stroke="#000" stroke-width="3.8"/>
<line x1="565.60" y1="1315.70" x2="611.60" y2="1315.70" stroke="#000" stroke-width="3.7"/>
<circle cx="588.6" cy="1198.17" r="5.55" fill="#fff" stroke="#000" stroke-width="3.6"/>
<circle cx="585.3" cy="1235.56" r="5.55" fill="#fff" stroke="#000" stroke-width="3.6"/>
<circle cx="592.0" cy="1235.56" r="5.55" fill="#fff" stroke="#000" stroke-width="3.6"/>
<circle cx="588.6" cy="1257.99" r="5.55" fill="#fff" stroke="#000" stroke-width="3.6"/>
<circle cx="588.6" cy="1317.82" r="5.55" fill="#fff" stroke="#000" stroke-width="3.6"/>
<circle cx="588.6" cy="1340.25" r="5.55" fill="#fff" stroke="#000" stroke-width="3.6"/>
<circle cx="571.2" cy="1355.21" r="5.55" fill="#fff" stroke="#000" stroke-width="3.6"/>
<circle cx="578.3" cy="1355.21" r="5.55" fill="#fff" stroke="#000" stroke-width="3.6"/>
<circle cx="585.0" cy="1355.21" r="5.55" fill="#fff" stroke="#000" stroke-width="3.6"/>
<circle cx="606.3" cy="1355.21" r="5.55" fill="#fff" stroke="#000" stroke-width="3.6"/>
<circle cx="599.1" cy="1355.21" r="5.55" fill="#fff" stroke="#000" stroke-width="3.6"/>
<circle cx="592.4" cy="1362.69" r="5.55" fill="#fff" stroke="#000" stroke-width="3.6"/>
<circle cx="588.6" cy="1377.64" r="5.55" fill="#fff" stroke="#000" stroke-width="3.6"/>
<line x1="645.70" y1="1193.80" x2="645.70" y2="1349.00" stroke="#000" stroke-width="3.5"/>
<line x1="634.70" y1="1193.80" x2="656.70" y2="1193.80" stroke="#000" stroke-width="3.8"/>
<line x1="634.70" y1="1349.00" x2="656.70" y2="1349.00" stroke="#000" stroke-width="3.8"/>
<line x1="622.70" y1="1271.40" x2="668.70" y2="1271.40" stroke="#000" stroke-width="3.7"/>
<circle cx="645.7" cy="1100.96" r="7.40" fill="#000"/>
<circle cx="645.7" cy="1160.78" r="7.40" fill="#000"/>
<circle cx="645.7" cy="1183.21" r="7.40" fill="#000"/>
<circle cx="645.7" cy="1235.56" r="7.40" fill="#000"/>
<circle cx="651.7" cy="1280.43" r="7.40" fill="#000"/>
<circle cx="639.8" cy="1287.91" r="7.40" fill="#000"/>
<circle cx="639.8" cy="1310.34" r="7.40" fill="#000"/>
<circle cx="628.2" cy="1317.82" r="7.40" fill="#000"/>
<circle cx="651.7" cy="1317.82" r="7.40" fill="#000"/>
<circle cx="663.3" cy="1317.82" r="7.40" fill="#000"/>
<circle cx="639.8" cy="1325.30" r="7.40" fill="#000"/>
<circle cx="651.7" cy="1332.77" r="7.40" fill="#000"/>
<circle cx="645.7" cy="1355.21" r="7.40" fill="#000"/>
<polygon points="646.75,1070.70 647.55,1061.30 643.45,1061.30 644.25,1070.70" fill="#000"/>
<polygon points="645.32,1071.47 654.50,1069.33 653.24,1065.43 644.54,1069.10" fill="#000"/>
<polygon points="644.14,1070.35 649.01,1078.42 652.33,1076.01 646.16,1068.88" fill="#000"/>
<polygon points="644.84,1068.88 638.67,1076.01 641.99,1078.42 646.86,1070.35" fill="#000"/>
<polygon points="646.46,1069.10 637.76,1065.43 636.50,1069.33 645.68,1071.47" fill="#000"/>
</svg>
</body></html>
